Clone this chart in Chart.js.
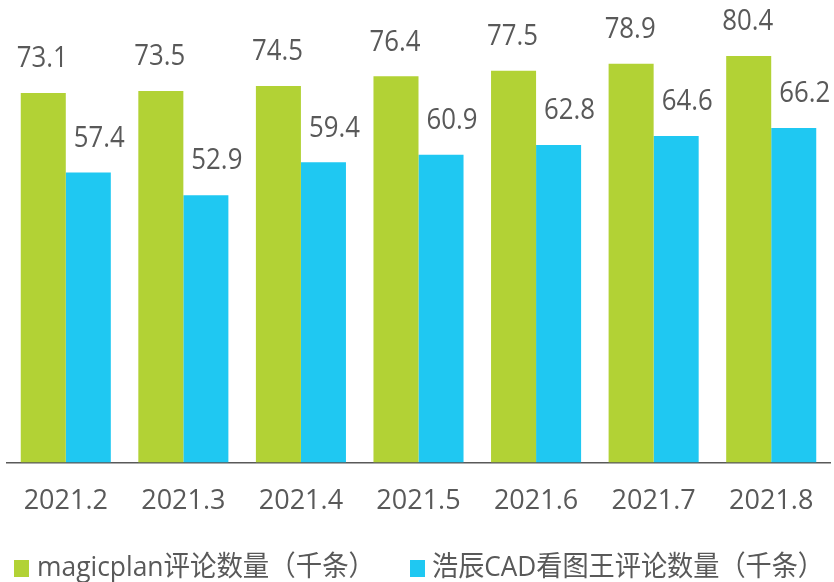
<!DOCTYPE html>
<html>
<head>
<meta charset="utf-8">
<script src="https://cdn.jsdelivr.net/npm/chart.js@4"></script>
<style>
  body { margin: 0; background: #fff; }
  #wrap { width: 834px; height: 582px; }
</style>
</head>
<body>
<div id="wrap"><canvas id="bar-reviews"></canvas></div>
<script>
const months = ['2021.2', '2021.3', '2021.4', '2021.5', '2021.6', '2021.7', '2021.8'];
const magicplanReviews = [73.1, 73.5, 74.5, 76.4, 77.5, 78.9, 80.4];
const haochenReviews = [57.4, 52.9, 59.4, 60.9, 62.8, 64.6, 66.2];
const seriesNames = ['magicplan评论数量（千条）', '浩辰CAD看图王评论数量（千条）'];

const FONT = '"Open Sans", "Noto Sans CJK SC", sans-serif';
const TEXT = '#595959';

// value labels above every bar (the blue ones sit a little to the right)
const barLabels = {
    id: 'barLabels',
    afterDatasetsDraw(chart) {
        const ctx = chart.ctx;
        const shift = [-1, 11];
        ctx.save();
        ctx.font = '29px ' + FONT;
        ctx.fillStyle = TEXT;
        ctx.textAlign = 'center';
        ctx.textBaseline = 'middle';
        chart.data.datasets.forEach((ds, i) => {
            chart.getDatasetMeta(i).data.forEach((bar, j) => {
                ctx.fillText(ds.data[j].toFixed(1), bar.x + shift[i], bar.y - 34, 51);
            });
        });
        ctx.restore();
    }
};

// legend drawn by hand so it can sit where the original has it
const bottomLegend = {
    id: 'bottomLegend',
    afterDraw(chart) {
        const ctx = chart.ctx;
        const items = [
            { box: 14, text: 37, width: 338 },
            { box: 410, text: 432, width: 392 }
        ];
        ctx.save();
        ctx.font = '28px ' + FONT;
        ctx.textBaseline = 'middle';
        ctx.textAlign = 'left';
        chart.data.datasets.forEach((ds, i) => {
            const it = items[i];
            ctx.fillStyle = ds.backgroundColor;
            ctx.fillRect(it.box, 560, 15, 17);
            ctx.fillStyle = TEXT;
            ctx.fillText(ds.label, it.text, 568, it.width);
        });
        ctx.restore();
    }
};

const ctx = document.getElementById('bar-reviews');
new Chart(ctx, {
    type: 'bar',
    data: {
        labels: months,
        datasets: [{
            label: seriesNames[0],
            data: magicplanReviews,
            backgroundColor: '#B2D235',
            categoryPercentage: 0.766,
            barPercentage: 1
        }, {
            label: seriesNames[1],
            data: haochenReviews,
            backgroundColor: '#1FC8F2',
            categoryPercentage: 0.766,
            barPercentage: 1
        }]
    },
    options: {
        responsive: true,
        maintainAspectRatio: false,
        animation: false,
        layout: {
            padding: { left: 7, right: 4, top: 0, bottom: 49 }
        },
        scales: {
            x: {
                grid: { display: false },
                border: { display: true, color: '#595959', width: 1.5 },
                ticks: {
                    color: TEXT,
                    padding: 15,
                    font: { family: FONT, size: 27 }
                }
            },
            y: {
                display: false,
                min: 0,
                max: 91.5
            }
        },
        plugins: {
            legend: { display: false },
            tooltip: { enabled: false }
        }
    },
    plugins: [barLabels, bottomLegend]
});
</script>
</body>
</html>
